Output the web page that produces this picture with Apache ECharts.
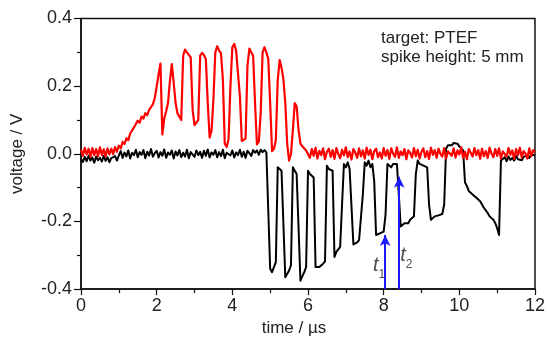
<!DOCTYPE html>
<html><head><meta charset="utf-8">
<script src="https://cdn.jsdelivr.net/npm/echarts@6/dist/echarts.min.js"></script>
<style>html,body{margin:0;padding:0;background:#fff}#c{width:548px;height:342px}</style>
</head><body><div id="c"></div>
<script>
// sampling grid of the traces (µs)
const sampleStep = 0.05;
// red trace (V), one value per sample from 0 to 12 µs
const redVolts = [
 0.012, -0.006, 0.018, -0.002, 0.015, -0.009, 0.017, -0.004, 0.014, -0.007,
 0.019, -0.003, 0.013, -0.008, 0.016, -0.002, 0.015, -0.001, 0.020, 0.006,
 0.024, 0.016, 0.035, 0.029, 0.046, 0.040, 0.060, 0.058, 0.078, 0.076,
 0.098, 0.092, 0.110, 0.104, 0.120, 0.114, 0.130, 0.128, 0.146, 0.165,
 0.199, 0.235, 0.267, 0.057, 0.105, 0.125, 0.150, 0.215, 0.265, 0.210,
 0.150, 0.120, 0.110, 0.100, 0.290, 0.308, 0.300, 0.295, 0.285, 0.130,
 0.085, 0.080, 0.100, 0.290, 0.298, 0.292, 0.280, 0.150, 0.048, 0.068,
 0.160, 0.300, 0.318, 0.305, 0.297, 0.220, 0.030, 0.020, 0.042, 0.200,
 0.315, 0.325, 0.305, 0.300, 0.170, 0.038, 0.040, 0.045, 0.260, 0.311,
 0.300, 0.290, 0.150, 0.028, 0.036, 0.120, 0.300, 0.315, 0.300, 0.280,
 0.150, 0.008, 0.015, 0.040, 0.218, 0.277, 0.255, 0.220, 0.150, 0.030,
 -0.020, 0.000, 0.070, 0.150, 0.140, 0.070, 0.030, 0.022, 0.018, 0.010,
 0.012,
 -0.012, 0.014, -0.006, 0.018, -0.014, 0.009, -0.004, 0.016, -0.016, 0.006,
 0.015, -0.009, 0.011, -0.015, 0.017, 0.000, -0.013, 0.012, -0.005, 0.019,
 -0.010, 0.007, -0.017, 0.014, 0.003, -0.012, 0.016, -0.007, 0.010, -0.014,
 0.018, -0.003, 0.012, -0.016, 0.008, 0.015, -0.010, 0.004, -0.014, 0.017,
 -0.006, 0.011, -0.015, 0.016, 0.001, -0.009, 0.019, -0.012, 0.007, -0.004,
 0.014, -0.016, 0.010, 0.003, -0.011, 0.017, -0.007, 0.012, -0.014, 0.006,
 0.016, -0.010, 0.008, -0.015, 0.018, -0.003, 0.011, -0.012, 0.015, 0.000,
 -0.008, 0.017, -0.014, 0.007, 0.012, -0.006, 0.016, -0.011, 0.010, -0.002,
 0.019, -0.012, 0.006, -0.016, 0.014, 0.003, -0.008, 0.017, -0.004, 0.011,
 -0.015, 0.015, -0.007, 0.008, -0.012, 0.018, 0.001, -0.010, 0.014, -0.006,
 0.016, -0.014, 0.007, 0.012, -0.008, 0.017, -0.003, 0.010, -0.015, 0.014,
 -0.004, 0.018, -0.011, 0.008, 0.001, -0.014, 0.016, -0.007, 0.011, 0.004
];
// black trace (V), one value per sample from 0 to 12 µs
const blackVolts = [
 -0.015, -0.024, -0.009, -0.022, -0.006, -0.020, -0.011, -0.026, -0.008, -0.019,
 -0.012, -0.023, -0.006, -0.021, -0.010, -0.025, -0.013, -0.018, -0.007, -0.020,
 -0.005, 0.008, -0.012, 0.004, -0.008, 0.010, -0.014, 0.003, -0.004, 0.012,
 -0.010, 0.005, -0.003, 0.011, -0.013, 0.006, -0.005, 0.014, -0.009, 0.002,
 0.009, -0.011, 0.005, -0.006, 0.013, -0.012, 0.004, -0.003, 0.010, -0.014,
 0.007, -0.005, 0.011, -0.010, 0.003, -0.008, 0.012, -0.013, 0.005, 0.000,
 -0.009, 0.010, -0.004, 0.006, -0.012, 0.009, -0.006, 0.013, -0.011, 0.004,
 -0.003, 0.011, -0.010, 0.005, -0.007, 0.012, -0.013, 0.003, 0.008, -0.005,
 0.010, -0.011, 0.004, -0.004, 0.012, -0.009, 0.006, -0.012, 0.009, 0.002,
 -0.006, 0.011, 0.003, 0.010, -0.003, 0.012, 0.005, 0.011, 0.004, 0.002,
 -0.340, -0.350, -0.335, -0.320, -0.040, -0.035, -0.050, -0.045, -0.365, -0.360,
 -0.345, -0.330, -0.040, -0.050, -0.060, -0.055, -0.375, -0.370, -0.350, -0.335,
 -0.050, -0.060, -0.065, -0.070, -0.335, -0.340, -0.335, -0.330, -0.325, -0.318,
 -0.035, -0.045, -0.040, -0.050, -0.305, -0.290, -0.285, -0.275, -0.150, -0.030,
 -0.040, -0.025, -0.045, -0.050, -0.268, -0.265, -0.262, -0.255, -0.250, -0.120,
 -0.025, -0.035, -0.020, -0.040, -0.030, -0.080, -0.240, -0.245, -0.235, -0.240,
 -0.230, -0.180, -0.030, -0.025, -0.040, -0.030, -0.035, -0.030, -0.120, -0.215,
 -0.210, -0.205, -0.200, -0.205, -0.195, -0.195, -0.185, -0.060, -0.020, -0.030,
 -0.025, -0.035, -0.030, -0.040, -0.150, -0.195, -0.190, -0.185, -0.188, -0.182,
 -0.185, -0.178, -0.150, 0.015, 0.025, 0.030, 0.025, 0.032, 0.028, 0.030,
 0.022, 0.025, 0.010, -0.085, -0.095, -0.110, -0.115, -0.120, -0.125, -0.130,
 -0.135, -0.140, -0.150, -0.160, -0.165, -0.175, -0.185, -0.190, -0.195, -0.205,
 -0.220, -0.240, -0.020, -0.015, -0.010, -0.022, -0.008, -0.018, -0.012, -0.020,
 -0.006, -0.016, -0.011, -0.019, -0.009, -0.014, -0.005, -0.012, -0.003, 0.002, -0.004
];
// axes
const xRange = [0, 12], xStep = 2;
const yRange = [-0.4, 0.4], yStep = 0.2;
// arrows t1, t2 (time in µs, tip voltage)
const arrowTimes = [8.04, 8.41];
const arrowTips = [-0.24, -0.068];
const arrowBase = -0.4;
const arrowNames = ['1', '2'];
const arrowLabelAt = [[7.88, -0.33], [8.6, -0.30]];
const notes = ['target: PTEF', 'spike height: 5 mm'];

const FONT = "'Liberation Sans', Arial, sans-serif";
const toPairs = arr => arr.map((v, i) => [+(i * sampleStep).toFixed(2), v]);

const chart = echarts.init(document.getElementById('c'), null, {renderer: 'canvas'});
chart.setOption({
  animation: false,
  backgroundColor: '#fff',
  grid: {left: 81, right: 12, top: 18.5, bottom: 51, show: true, borderColor: '#111', borderWidth: 1.5, backgroundColor: 'transparent'},
  xAxis: {
    type: 'value', min: xRange[0], max: xRange[1], interval: xStep,
    name: 'time / \u00b5s', nameLocation: 'middle', nameGap: 27,
    nameTextStyle: {fontFamily: FONT, fontSize: 17, color: '#222', padding: [0, 28, 0, 0]},
    axisLine: {show: true, onZero: false, lineStyle: {color: '#111', width: 1.5}},
    axisTick: {show: true, inside: false, length: 6, lineStyle: {color: '#111', width: 1.2}},
    minorTick: {show: true, splitNumber: 2, length: 4, lineStyle: {color: '#111', width: 1.2}},
    axisLabel: {fontFamily: FONT, fontSize: 18, color: '#222', margin: 8},
    splitLine: {show: false}
  },
  yAxis: {
    type: 'value', min: yRange[0], max: yRange[1], interval: yStep,
    name: 'voltage / V', nameLocation: 'middle', nameGap: 55, nameRotate: 90,
    nameTextStyle: {fontFamily: FONT, fontSize: 17, color: '#222'},
    axisLine: {show: true, onZero: false, lineStyle: {color: '#111', width: 1.5}},
    axisTick: {show: true, inside: false, length: 7, lineStyle: {color: '#111', width: 1.2}},
    minorTick: {show: true, splitNumber: 2, length: 4, lineStyle: {color: '#111', width: 1.2}},
    axisLabel: {fontFamily: FONT, fontSize: 18, color: '#222', margin: 9, formatter: v => v.toFixed(1)},
    splitLine: {show: false}
  },
  series: [
    {type: 'line', name: 'black', data: toPairs(blackVolts), showSymbol: false, symbol: 'none',
     lineStyle: {color: '#000', width: 2, join: 'round'}, sampling: null, z: 2},
    {type: 'line', name: 'red', data: toPairs(redVolts), showSymbol: false, symbol: 'none',
     lineStyle: {color: '#ff0000', width: 2.2, join: 'round'}, sampling: null, z: 3},
    {type: 'line', name: 'arrows', data: [], z: 5,
     markLine: {silent: true, animation: false, symbol: ['none', 'arrow'], symbolSize: [8, 11],
       lineStyle: {color: '#1a1aff', width: 2, type: 'solid'}, label: {show: false},
       data: arrowTimes.map((t, k) => [{coord: [t, arrowBase]}, {coord: [t, arrowTips[k]]}])}},
    {type: 'scatter', name: 'labels', symbolSize: 0, z: 6,
     data: arrowLabelAt.map((p, k) => ({value: p, name: arrowNames[k]})),
     label: {show: true, position: 'inside', formatter: p => '{i|t}{s|' + p.name + '}',
       rich: {
         i: {fontFamily: FONT, fontStyle: 'italic', fontSize: 20, color: '#222', lineHeight: 30},
         s: {fontFamily: FONT, fontSize: 12, color: '#222', lineHeight: 10, verticalAlign: 'bottom'}
       }}}
  ],
  graphic: [
    {type: 'text', left: 381, top: 30, style: {text: notes[0], font: "17px 'Liberation Sans', Arial, sans-serif", fill: '#222'}},
    {type: 'text', left: 381, top: 49, style: {text: notes[1], font: "17px 'Liberation Sans', Arial, sans-serif", fill: '#222'}}
  ]
});
</script></body></html>
